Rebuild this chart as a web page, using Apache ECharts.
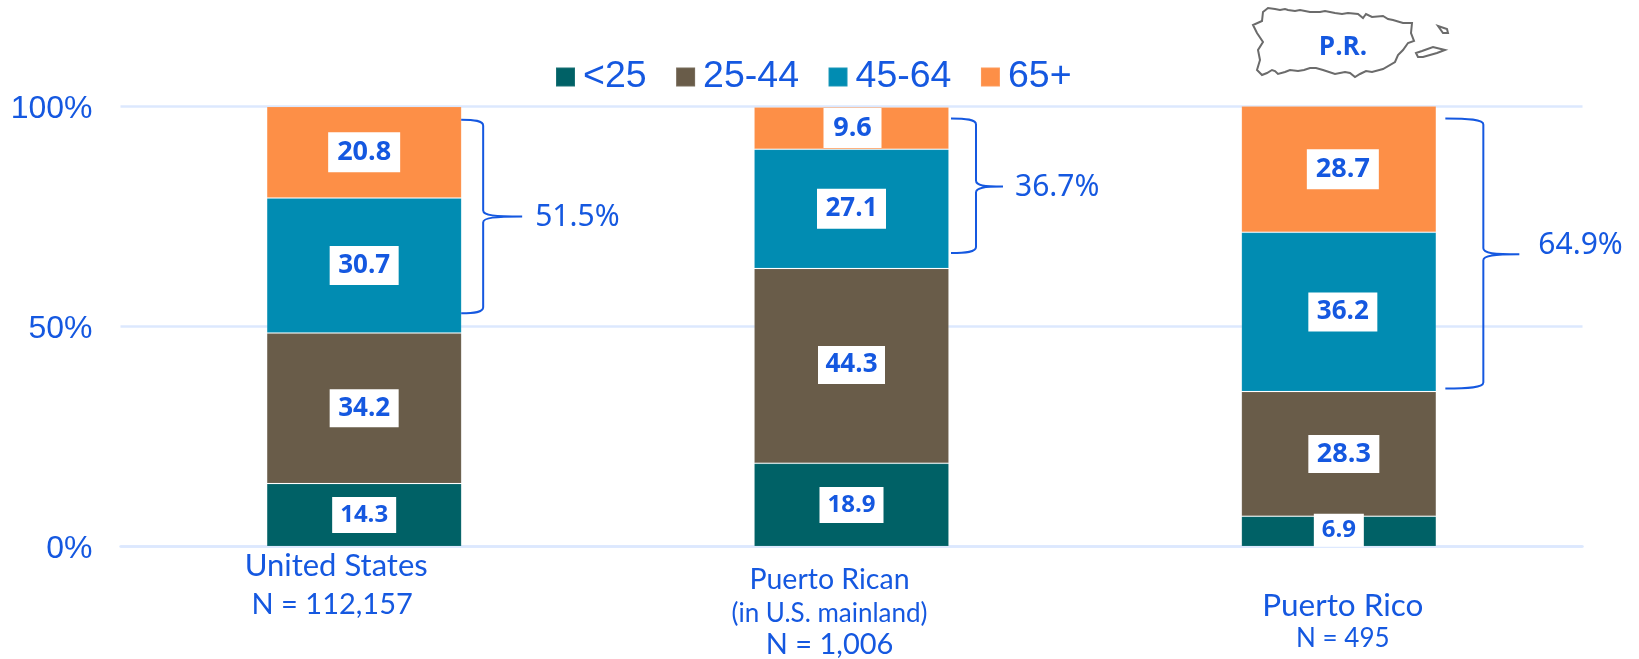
<!DOCTYPE html>
<html><head><meta charset="utf-8">
<style>html,body{margin:0;padding:0;background:#fff}#c{width:1639px;height:659px}</style>
<script src="https://cdn.jsdelivr.net/npm/echarts@6/dist/echarts.min.js"></script>
</head><body><div id="c"></div>
<script>
const categories = ['United States', 'Puerto Rican', 'Puerto Rico'];
const ageGroups = ['<25', '25-44', '45-64', '65+'];
const under25 = [14.3, 18.9, 6.9];
const age25to44 = [34.2, 44.3, 28.3];
const age45to64 = [30.7, 27.1, 36.2];
const age65plus = [20.8, 9.6, 28.7];
const braceLabels = ['51.5%', '36.7%', '64.9%'];
const braceTop = [97, 97.3, 97.3];
const braceTip = [75, 81.8, 66.4];
const braceBottom = [53, 66.7, 35.9];
const yTicks = [0, 50, 100];

const BLUE = '#1558e0';
const colors = ['#006166', '#695c49', '#018cb2', '#fd8f47'];
const seriesValues = [under25, age25to44, age45to64, age65plus];

// [box width, box height, dx, dy, font size] for each value label, by series then category
const boxes = [
  [[64,36,0,0,24],[64,36,0,0,24],[50,33,0,-1,24]],
  [[69,38,0,0,26],[67,38,0,-1,26],[71,38,5,0,27]],
  [[69,39,0,0,26],[69,40,0,0,26],[69,39,4,0,26]],
  [[72,40,0,0,27],[58,40,1,0,27],[72,40,4,0,27]]
];
// per-category brace geometry in pixels: x offsets from the bar centre (start, spine, tip, text), then text dy
const braceGeom = [[97,119,158,171,1],[99.5,124.5,151.5,163.5,1],[106.5,144.5,180.5,199.5,-9]];

const barSeries = ageGroups.map((name, s) => ({
  name, type: 'bar', stack: 'age', barWidth: 195,
  itemStyle: { color: colors[s], borderColor: 'rgba(255,255,255,0.1)', borderWidth: 1 },
  data: seriesValues[s].map((v, c) => {
    const b = boxes[s][c];
    return { value: v, label: {
      show: true, position: 'inside', formatter: v.toFixed(1),
      width: b[0], height: b[1], lineHeight: b[1], offset: [b[2], b[3]],
      align: 'center', verticalAlign: 'middle', backgroundColor: '#fff',
      color: BLUE, fontFamily: 'Open Sans', fontWeight: 700, fontSize: b[4]
    }};
  })
}));

const braceSeries = {
  type: 'custom', silent: true, z: 5, tooltip: { show: false },
  encode: { x: 0, y: 1 },
  data: categories.map((c, i) => [i, braceTop[i], braceTip[i], braceBottom[i]]),
  renderItem(params, api) {
    const i = api.value(0);
    const p0 = api.coord([i, api.value(1)]);
    const pm = api.coord([i, api.value(2)]);
    const p1 = api.coord([i, api.value(3)]);
    const g = braceGeom[i];
    const [a, b, t, l] = g.slice(0, 4).map(d => p0[0] + d);
    const top = p0[1], mid = pm[1], bot = p1[1], r = 6;
    const d = `M${a} ${top} C${a+(b-a)*0.6} ${top},${b} ${top+1},${b} ${top+r} L${b} ${mid-r} ` +
      `C${b} ${mid-1},${b+(t-b)*0.3} ${mid},${t} ${mid} C${b+(t-b)*0.3} ${mid},${b} ${mid+1},${b} ${mid+r} ` +
      `L${b} ${bot-r} C${b} ${bot-1},${a+(b-a)*0.6} ${bot},${a} ${bot}`;
    return { type: 'group', children: [
      { type: 'path', shape: { pathData: d }, style: { stroke: BLUE, fill: 'none', lineWidth: 2 } },
      { type: 'text', x: l, y: mid + g[4], style: { text: braceLabels[i], fill: BLUE,
        font: '400 30px "Noto Sans"', textAlign: 'left', textVerticalAlign: 'middle' } }
    ]};
  }
};

const xLabels = {
  'United States': '{us1|United States}\n{us2|N = 112,157}',
  'Puerto Rican': '{sp1| }\n{pr1|Puerto Rican}\n{pr2|(in U.S. mainland)}\n{pr3|N = 1,006}',
  'Puerto Rico': '{sp2| }\n{pc1|Puerto Rico}\n{pc2|N = 495}'
};
const lab = (size, lh, shift) => ({
  fontFamily: 'Lato', fontSize: size, lineHeight: lh, color: BLUE,
  padding: shift < 0 ? [0, -2 * shift, 0, 0] : [0, 0, 0, 2 * shift]
});

const mainland = [[43,12],[48,8],[55,9],[60,10],[65,9],[68,10],[75,11],[80,10],[90,12],[100,12],[105,11],[115,13],[122,14],[128,13],[138,14],[143,18],[146,14],[152,17],[163,16],[168,19],[173,20],[183,23],[192,23],[191,33],[194,41],[188,43],[183,50],[178,55],[175,62],[163,69],[152,72],[146,71],[140,74],[135,77],[130,73],[125,72],[115,74],[103,70],[96,68],[90,68],[84,70],[78,71],[70,70],[65,72],[58,74],[55,71],[52,70],[47,73],[42,75],[37,70],[40,60],[38,50],[43,42],[37,33],[33,25],[42,21]];
const vieques = [[196,53],[202,51],[213,47],[225,50],[217,53],[203,57],[198,57]];
const culebra = [[218,26],[227,29],[228,33],[223,33]];
const outline = pts => ({ type: 'polygon', shape: { points: pts },
  style: { stroke: '#6b6b6b', fill: '#fff', lineWidth: 2 } });

const chart = echarts.init(document.getElementById('c'), null, { renderer: 'canvas' });
chart.setOption({
  animation: false,
  backgroundColor: '#fff',
  grid: { left: 120.5, right: 56.5, top: 106.5, bottom: 112.5, containLabel: false },
  legend: {
    left: 555, top: 58, padding: 0, itemWidth: 19, itemHeight: 19, itemGap: 28.5, icon: 'rect',
    data: ageGroups, selectedMode: false,
    textStyle: { color: BLUE, fontFamily: 'Liberation Sans', fontSize: 37.5, padding: [0, 0, 0, 3] }
  },
  xAxis: {
    type: 'category', data: categories,
    axisTick: { show: false },
    axisLine: { show: true, lineStyle: { color: '#dce8fe', width: 2.5 } },
    axisLabel: {
      interval: 0, margin: 0, hideOverlap: false, verticalAlign: 'top',
      formatter: v => xLabels[v],
      rich: {
        us1: lab(31, 39, -28), us2: lab(29, 38, -32),
        sp1: lab(10, 14, 0), pr1: lab(28.5, 38, -22), pr2: lab(26, 30, -22), pr3: lab(29, 32, -22),
        sp2: lab(10, 40, 0), pc1: lab(31.5, 38, 4), pc2: lab(26, 28, 4)
      }
    }
  },
  yAxis: {
    type: 'value', min: 0, max: 100, interval: 50,
    axisLine: { show: false }, axisTick: { show: false },
    splitLine: { lineStyle: { color: '#dce8fe', width: 2.5 } },
    axisLabel: { margin: 28,
      formatter: v => yTicks.includes(v) ? `{s| }\n{a|${v}%}` : '',
      rich: {
        s: { fontSize: 4, lineHeight: 6 },
        a: { color: BLUE, fontFamily: 'Liberation Sans', fontSize: 32, lineHeight: 36 }
      }
    }
  },
  series: [...barSeries, braceSeries],
  graphic: [
    { type: 'group', left: 1220, top: 0, bounding: 'raw', silent: true, children: [
      outline(mainland), outline(vieques), outline(culebra),
      { type: 'text', x: 123, y: 48, style: { text: 'P.R.', fill: BLUE,
        font: '700 26px "Open Sans"', textAlign: 'center', textVerticalAlign: 'middle' } }
    ]}
  ]
});
</script></body></html>
